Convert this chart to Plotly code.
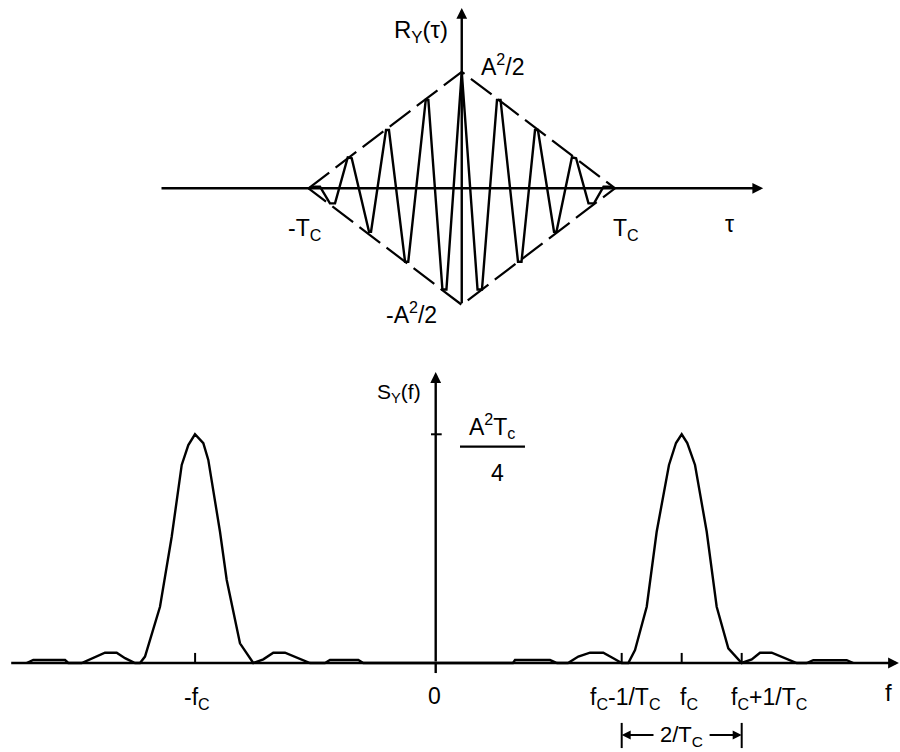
import plotly.graph_objects as go

# ---------------- data ----------------
# Top panel: autocorrelation R_Y(tau); tau in units of T_c, R in units of A^2/2
tau = [-1.001, -0.958, -0.925, -0.860, -0.827, -0.744, -0.718, -0.605, -0.592,
       -0.494, -0.475, -0.370, -0.349, -0.235, -0.218, -0.126, -0.100, 0.000,
       0.103, 0.132, 0.230, 0.253, 0.367, 0.390, 0.478, 0.497, 0.602, 0.618,
       0.719, 0.746, 0.827, 0.863, 0.925, 0.958, 1.000]
r_y = [0.000, 0.014, 0.014, -0.129, -0.129, 0.266, 0.258, -0.373, -0.373,
       0.500, 0.500, -0.630, -0.630, 0.758, 0.758, -0.869, -0.869, 1.000,
       -0.869, -0.869, 0.758, 0.758, -0.630, -0.630, 0.500, 0.500, -0.373, -0.373,
       0.266, 0.258, -0.129, -0.129, 0.014, 0.014, 0.000]
env_tau = [-1, 0, 1, 0, -1]
env_r = [0, 1, 0, -1, 0]

# Bottom panel: power spectrum S_Y(f); f in units of 1/T_c, S in units of A^2 T_c / 4
freq = [-6.817, -6.707, -6.178, -6.123, -5.900, -5.707, -5.512, -5.317, -5.178,
        -5.012, -4.928, -4.845, -4.595, -4.400, -4.233, -4.123, -4.012, -3.873,
        -3.790, -3.595, -3.483, -3.262, -3.040, -2.873, -2.707, -2.512, -2.095,
        -1.845, -1.762, -1.290, -1.207,
        1.288, 1.322, 1.905, 2.022, 2.205, 2.377, 2.572, 2.793, 2.960, 3.100,
        3.210, 3.322, 3.517, 3.683, 3.888, 4.005, 4.100, 4.193, 4.322, 4.517,
        4.683, 4.877, 5.100, 5.267, 5.405, 5.600, 6.017, 6.183, 6.293, 6.850, 6.960]
s_y = [0.000, 0.013, 0.013, 0.000, 0.000, 0.021, 0.045, 0.045, 0.021,
       0.000, 0.000, 0.028, 0.246, 0.552, 0.866, 0.953, 1.000, 0.961,
       0.888, 0.574, 0.363, 0.086, 0.000, 0.016, 0.045, 0.045, 0.000,
       0.000, 0.013, 0.013, 0.000,
       0.000, 0.013, 0.013, 0.000, 0.000, 0.028, 0.045, 0.045, 0.021, 0.000,
       0.000, 0.057, 0.246, 0.574, 0.866, 0.962, 1.000, 0.962, 0.866, 0.574,
       0.246, 0.064, 0.000, 0.016, 0.045, 0.045, 0.000, 0.000, 0.012, 0.012, 0.000]
f_ticks = [-4.01, 3.10, 4.10, 5.10]          # -f_c, f_c-1/T_c, f_c, f_c+1/T_c
f_labels = ["-f<sub>C</sub>", "f<sub>C</sub>-1/T<sub>C</sub>", "f<sub>C</sub>", "f<sub>C</sub>+1/T<sub>C</sub>"]
f_label_x = [-3.98, 3.155, 4.222, 5.555]

FONT = "Liberation Sans, Arial, sans-serif"
BLACK = "#000000"
LW = 2.4

fig = go.Figure()

# top curve + envelope
fig.add_trace(go.Scatter(x=env_tau, y=env_r, mode="lines", xaxis="x", yaxis="y",
                         line=dict(color=BLACK, width=2.2, dash="26px,8px"), hoverinfo="skip"))
fig.add_trace(go.Scatter(x=tau, y=r_y, mode="lines", xaxis="x", yaxis="y",
                         line=dict(color=BLACK, width=LW), hoverinfo="skip"))
# bottom curve
fig.add_trace(go.Scatter(x=freq, y=s_y, mode="lines", xaxis="x2", yaxis="y2",
                         line=dict(color=BLACK, width=LW), hoverinfo="skip"))

shapes = []
# ticks on f axis
for ft in f_ticks:
    shapes.append(dict(type="line", xref="x2", yref="y2", x0=ft, x1=ft, y0=0, y1=0.044,
                       line=dict(color=BLACK, width=2)))
# tick on S axis
shapes.append(dict(type="line", xref="x2", yref="y2", x0=-0.078, x1=0.10, y0=1, y1=1,
                   line=dict(color=BLACK, width=2)))
# fraction bar
shapes.append(dict(type="line", xref="x2", yref="y2", x0=0.405, x1=1.488, y0=0.946, y1=0.946,
                   line=dict(color=BLACK, width=2.2)))
# 2/T_c dimension bars
for ft in (f_ticks[1], f_ticks[3]):
    shapes.append(dict(type="line", xref="x2", yref="y2", x0=ft, x1=ft, y0=-0.262, y1=-0.372,
                       line=dict(color=BLACK, width=2)))
# lower part of bottom vertical axis (below the f axis)
shapes.append(dict(type="line", xref="x2", yref="y2", x0=0, x1=0, y0=0, y1=-0.044,
                   line=dict(color=BLACK, width=LW)))

ann = []
def arrow(x, y, ax, ay, xr, yr, size=1.0, width=LW):
    ann.append(dict(x=x, y=y, ax=ax, ay=ay, xref=xr, yref=yr, axref=xr, ayref=yr,
                    text="", showarrow=True, arrowhead=2, arrowsize=size, arrowwidth=width,
                    arrowcolor=BLACK, standoff=0, startstandoff=0))

# axes with arrows
arrow(1.967, 0, -1.969, 0, "x", "y", 0.9)
arrow(0, 1.548, 0, -1.0, "x", "y", 0.9)
arrow(7.72, 0, -7.10, 0, "x2", "y2", 0.9)
arrow(0, 1.272, 0, 0, "x2", "y2", 0.9)
# 2/T_c arrows
arrow(f_ticks[1], -0.315, 3.655, -0.315, "x2", "y2", 0.9, 2)
arrow(f_ticks[3], -0.315, 4.54, -0.315, "x2", "y2", 0.9, 2)

def label(x, y, text, xr, yr, size=23, xanchor="center", yanchor="middle"):
    ann.append(dict(x=x, y=y, xref=xr, yref=yr, text=text, showarrow=False,
                    xanchor=xanchor, yanchor=yanchor,
                    font=dict(family=FONT, size=size, color=BLACK)))

# top labels
label(-0.077, 1.35, "R<sub>Y</sub>(τ)", "x", "y", 24, xanchor="right")
label(0.1125, 1.06, "A<sup>2</sup>/2", "x", "y", 23, xanchor="left")
label(-1.02, -0.35, "-T<sub>C</sub>", "x", "y", 23)
label(1.0685, -0.35, "T<sub>C</sub>", "x", "y", 23)
label(1.744, -0.31, "τ", "x", "y", 23)
label(-0.325, -1.07, "-A<sup>2</sup>/2", "x", "y", 23)

# bottom labels
label(-0.212, 1.18, "S<sub>Y</sub>(f)", "x2", "y2", 21, xanchor="right")
label(0.945, 1.035, "A<sup>2</sup>T<sub>c</sub>", "x2", "y2", 23)
label(1.03, 0.832, "4", "x2", "y2", 23)
label(-0.028, -0.145, "0", "x2", "y2", 23)
for fx, ftxt in zip(f_label_x, f_labels):
    label(fx, -0.155, ftxt, "x2", "y2", 23)
label(7.547, -0.13, "f", "x2", "y2", 24)
label(4.10, -0.318, "2/T<sub>C</sub>", "x2", "y2", 22)

ax_common = dict(visible=False, showgrid=False, zeroline=False, fixedrange=True)
fig.update_layout(
    width=900, height=752, autosize=False,
    margin=dict(l=0, r=0, t=0, b=0, pad=0),
    paper_bgcolor="white", plot_bgcolor="white",
    showlegend=False,
    xaxis=dict(range=[-3.0131, 2.8597], domain=[0, 1], **ax_common),
    yaxis=dict(range=[-4.8386, 1.6163], domain=[0, 1], **ax_common),
    xaxis2=dict(range=[-7.2617, 7.7383], domain=[0, 1], overlaying="x", **ax_common),
    yaxis2=dict(range=[-0.3892, 2.8990], domain=[0, 1], overlaying="y", **ax_common),
    shapes=shapes, annotations=ann,
)

fig.write_html("out.html", config={"displayModeBar": False, "staticPlot": True},
               post_script="document.body.style.margin='0';")
